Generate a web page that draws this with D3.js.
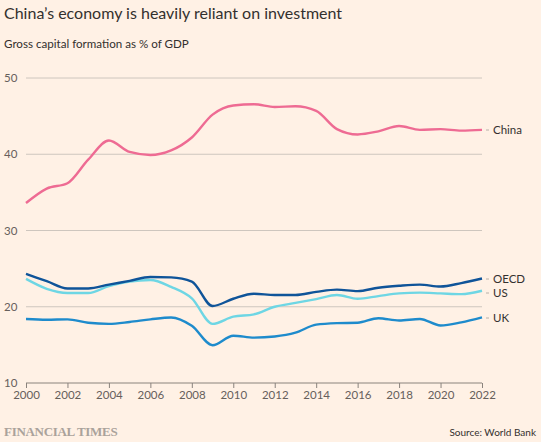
<!DOCTYPE html>
<html>
<head>
<script src="https://d3js.org/d3.v7.min.js"></script>
<style>
  body { margin: 0; background: #fff1e5; }
  svg { display: block; font-family: Lato, "Open Sans", sans-serif; }
</style>
</head>
<body>
<svg id="chart" width="541" height="442"></svg>
<script>
// data
const years = d3.range(2000, 2023);
const china = [33.6, 35.5, 36.2, 39.3, 41.8, 40.3, 39.9, 40.5, 42.2, 45.2, 46.4, 46.55,
               46.2, 46.3, 45.7, 43.3, 42.6, 43.0, 43.7, 43.2, 43.3, 43.1, 43.2];
const oecd = [24.3, 23.35, 22.4, 22.4, 22.9, 23.4, 23.9, 23.85, 23.3, 20.1, 21.05, 21.7,
              21.55, 21.55, 21.95, 22.25, 22.05, 22.5, 22.75, 22.9, 22.65, 23.1, 23.7];
const us = [23.65, 22.35, 21.8, 21.8, 22.7, 23.3, 23.5, 22.6, 21.1, 17.75, 18.7, 19.0,
            20.0, 20.5, 21.0, 21.55, 21.05, 21.4, 21.75, 21.85, 21.75, 21.65, 22.1];
const uk = [18.4, 18.3, 18.35, 17.9, 17.75, 18.0, 18.35, 18.6, 17.5, 14.95, 16.2, 15.95,
            16.1, 16.6, 17.65, 17.85, 17.9, 18.5, 18.2, 18.4, 17.55, 17.95, 18.6];
const seriesNames = ["UK", "US", "OECD", "China"];
const seriesValues = [uk, us, oecd, china];
const seriesColors = ["#1e8bcc", "#6ed6e4", "#0f5499", "#ee6b93"];
const yTicks = [10, 20, 30, 40, 50];
const xTicks = d3.range(2000, 2023, 2);

const svg = d3.select("#chart");
const x = d3.scaleLinear().domain([2000, 2022]).range([26, 482]);
const y = d3.scaleLinear().domain([10, 50]).range([383, 78]);

svg.append("rect").attr("width", 541).attr("height", 442).attr("fill", "#fff1e5");

// titles
svg.append("text").attr("x", 4).attr("y", 19)
  .attr("font-size", 16).attr("fill", "#33302e")
  .text("China\u2019s economy is heavily reliant on investment");
svg.append("text").attr("x", 4).attr("y", 48)
  .attr("font-size", 11.6).attr("fill", "#33302e")
  .text("Gross capital formation as % of GDP");

// y grid + labels
const grid = svg.append("g");
grid.selectAll("line").data(yTicks).join("line")
  .attr("x1", 26).attr("x2", 482)
  .attr("y1", d => y(d)).attr("y2", d => y(d))
  .attr("stroke", d => d === 10 ? "#8a837d" : "#cec6be").attr("stroke-width", 1);
grid.selectAll("text").data(yTicks).join("text")
  .attr("x", 4).attr("y", d => y(d)).attr("dy", "0.35em")
  .attr("font-size", 11.5).attr("fill", "#66605c")
  .text(d => d);

// x axis
const xAxis = svg.append("g").attr("transform", "translate(0,383)")
  .call(d3.axisBottom(x).tickValues(xTicks).tickFormat(d3.format("d")).tickSize(5).tickPadding(3));
xAxis.select(".domain").remove();
xAxis.selectAll("line").attr("stroke", "#8a837d");
xAxis.selectAll("text").attr("font-size", 11.5).attr("fill", "#66605c")
  .style("font-family", "Lato, sans-serif");

// lines
const line = d3.line()
  .x((d, i) => x(years[i]))
  .y(d => y(d))
  .curve(d3.curveMonotoneX);

svg.append("g").selectAll("path").data(seriesValues).join("path")
  .attr("d", line)
  .attr("fill", "none")
  .attr("stroke", (d, i) => seriesColors[i])
  .attr("stroke-width", 2.4)
  .attr("stroke-linejoin", "round");

// end labels
const labelY = { China: 130, OECD: 279, US: 293, UK: 318 };
const labels = svg.append("g");
seriesNames.forEach((name, i) => {
  const ly = labelY[name];
  labels.append("line")
    .attr("x1", 486).attr("x2", 489)
    .attr("y1", ly).attr("y2", ly)
    .attr("stroke", "#b8b0a8").attr("stroke-width", 1);
  labels.append("text")
    .attr("x", 493).attr("y", ly).attr("dy", "0.35em")
    .attr("font-size", 11.5).attr("fill", "#33302e")
    .text(name);
});

// footer
svg.append("text").attr("x", 4).attr("y", 436)
  .style("font-family", "'Liberation Serif', 'DejaVu Serif', serif")
  .attr("font-size", 13).attr("font-weight", "bold")
  .attr("fill", "#aaa29b").attr("letter-spacing", -0.3)
  .text("FINANCIAL TIMES");
svg.append("text").attr("x", 536).attr("y", 436)
  .attr("text-anchor", "end")
  .attr("font-size", 10).attr("fill", "#33302e")
  .text("Source: World Bank");
</script>
</body>
</html>
